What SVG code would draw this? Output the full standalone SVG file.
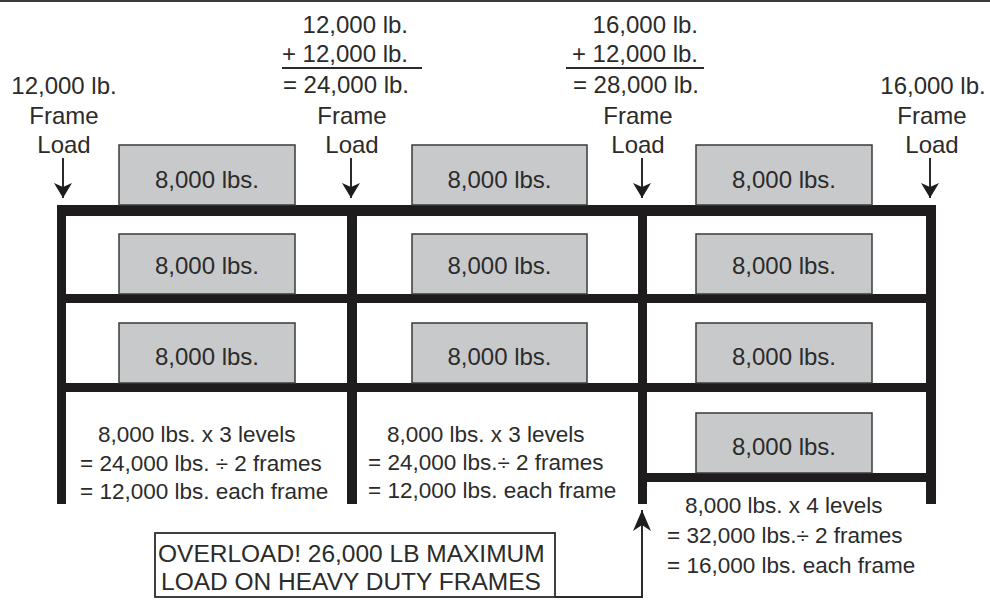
<svg xmlns="http://www.w3.org/2000/svg" width="990" height="608" viewBox="0 0 990 608">
<style>
text{font-family:"Liberation Sans",Arial,sans-serif;fill:#2b2b2b}
.lbl{font-size:24px;text-anchor:middle}
.end{text-anchor:end}
.box rect{fill:#c8c9ca;stroke:#3a3a3a;stroke-width:1.5}
.box text{font-size:24px;text-anchor:middle}
.calc{font-size:22.5px}
.frame rect{fill:#1e1c1d}
.thin{stroke:#2b2b2b;stroke-width:2;fill:none}
.ovl rect{fill:#fff;stroke:#2b2b2b;stroke-width:1.8}
.ovl text{font-size:24.5px}
</style>
<defs>
<marker id="ah" markerUnits="userSpaceOnUse" markerWidth="16" markerHeight="18" viewBox="0 0 16 18" refX="15" refY="9" orient="auto">
<path d="M0,0 L15,9 L0,18 L4,9 Z" fill="#1e1c1d"/>
</marker>
<marker id="ahL" markerUnits="userSpaceOnUse" markerWidth="22" markerHeight="18" viewBox="0 0 22 18" refX="21" refY="9" orient="auto">
<path d="M0,0 L21,9 L0,18 L6,9 Z" fill="#1e1c1d"/>
</marker>
</defs>
<rect x="0" y="0" width="990" height="2" fill="#3a3a3a"/>

<g id="frame" class="frame">
<rect x="57" y="205" width="879" height="11"/>
<rect x="57" y="294" width="879" height="9"/>
<rect x="57" y="383" width="879" height="9"/>
<rect x="638" y="473" width="298" height="9"/>
<rect x="57" y="205" width="9" height="299"/>
<rect x="347" y="205" width="10" height="299"/>
<rect x="638" y="205" width="9" height="299"/>
<rect x="926" y="205" width="10" height="299"/>
</g>

<g id="box-1-1" class="box"><rect x="119" y="145" width="176" height="60"/><text x="207" y="188">8,000 lbs.</text></g>
<g id="box-1-2" class="box"><rect x="412" y="145" width="175" height="60"/><text x="499.5" y="188">8,000 lbs.</text></g>
<g id="box-1-3" class="box"><rect x="696" y="145" width="176" height="60"/><text x="784" y="188">8,000 lbs.</text></g>
<g id="box-2-1" class="box"><rect x="119" y="234" width="176" height="60"/><text x="207" y="274">8,000 lbs.</text></g>
<g id="box-2-2" class="box"><rect x="412" y="234" width="175" height="60"/><text x="499.5" y="274">8,000 lbs.</text></g>
<g id="box-2-3" class="box"><rect x="696" y="234" width="176" height="60"/><text x="784" y="274">8,000 lbs.</text></g>
<g id="box-3-1" class="box"><rect x="119" y="323" width="176" height="60"/><text x="207" y="365">8,000 lbs.</text></g>
<g id="box-3-2" class="box"><rect x="412" y="323" width="175" height="60"/><text x="499.5" y="365">8,000 lbs.</text></g>
<g id="box-3-3" class="box"><rect x="696" y="323" width="176" height="60"/><text x="784" y="365">8,000 lbs.</text></g>
<g id="box-4-3" class="box"><rect x="696" y="413" width="176" height="60"/><text x="784" y="455">8,000 lbs.</text></g>

<g id="load-1" class="lbl">
<text x="64" y="94">12,000 lb.</text>
<text x="64" y="124">Frame</text>
<text x="64" y="153">Load</text>
</g>
<g id="load-2" class="lbl">
<text class="end" x="408" y="33">12,000 lb.</text>
<text class="end" x="408" y="62">+ 12,000 lb.</text>
<line class="thin" x1="282" y1="68" x2="422" y2="68" stroke-width="1.6"/>
<text class="end" x="409" y="93">= 24,000 lb.</text>
<text x="352" y="124">Frame</text>
<text x="352" y="153">Load</text>
</g>
<g id="load-3" class="lbl">
<text class="end" x="698" y="33">16,000 lb.</text>
<text class="end" x="698" y="62">+ 12,000 lb.</text>
<line class="thin" x1="566" y1="68" x2="704" y2="68" stroke-width="1.6"/>
<text class="end" x="699" y="93">= 28,000 lb.</text>
<text x="638" y="124">Frame</text>
<text x="638" y="153">Load</text>
</g>
<g id="load-4" class="lbl">
<text x="933" y="94">16,000 lb.</text>
<text x="932" y="124">Frame</text>
<text x="932" y="153">Load</text>
</g>

<g id="calc-1" class="calc">
<text x="98" y="442">8,000 lbs. x 3 levels</text>
<text x="80" y="471">= 24,000 lbs. ÷ 2 frames</text>
<text x="80" y="499">= 12,000 lbs. each frame</text>
</g>
<g id="calc-2" class="calc">
<text x="387" y="442">8,000 lbs. x 3 levels</text>
<text x="368" y="470">= 24,000 lbs.÷ 2 frames</text>
<text x="368" y="498">= 12,000 lbs. each frame</text>
</g>
<g id="calc-3" class="calc">
<text x="685" y="513">8,000 lbs. x 4 levels</text>
<text x="667" y="543">= 32,000 lbs.÷ 2 frames</text>
<text x="667" y="573">= 16,000 lbs. each frame</text>
</g>

<g id="overload" class="ovl">
<rect x="155" y="533" width="400" height="64"/>
<text x="158" y="562">OVERLOAD! 26,000 LB MAXIMUM</text>
<text x="161" y="590">LOAD ON HEAVY DUTY FRAMES</text>
</g>

<g id="connectors" class="thin">
<line x1="63" y1="158" x2="63" y2="198" marker-end="url(#ah)"/>
<line x1="351" y1="158" x2="351" y2="198" marker-end="url(#ah)"/>
<line x1="642" y1="158" x2="642" y2="198" marker-end="url(#ah)"/>
<line x1="930" y1="158" x2="930" y2="198" marker-end="url(#ah)"/>
<path d="M555,597 H642 V510" marker-end="url(#ahL)"/>
</g>
</svg>
